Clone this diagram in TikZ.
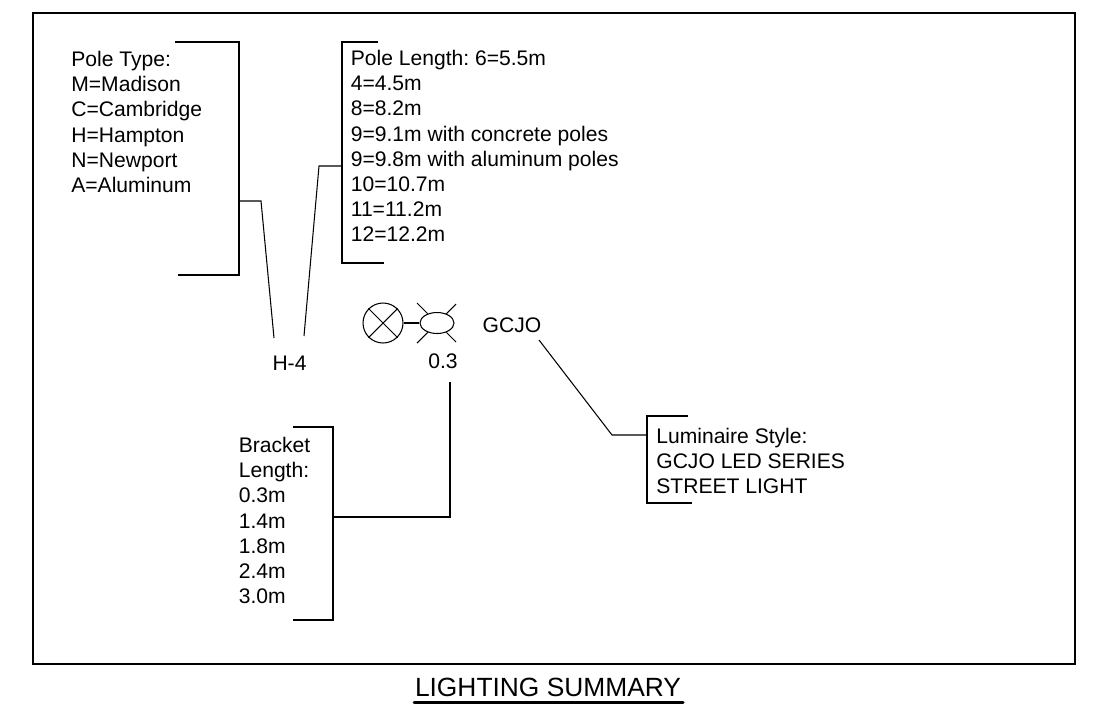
\documentclass[tikz,border=0pt]{standalone}
\usepackage{fontspec}
\setmainfont{Liberation Sans}
\usetikzlibrary{shapes.geometric}
\frenchspacing

\begin{document}
\begin{tikzpicture}[
  x=0.02cm, y=-0.02cm,
  frame/.style={line width=0.65pt, draw=black},
  wire/.style={line width=0.6pt, draw=black},
  note/.style={font=\fontsize{12}{14.3}\selectfont, align=left, anchor=north west, inner sep=0pt, text=black},
  tag/.style={font=\fontsize{12}{14.3}\selectfont, inner sep=0pt, text=black},
  lamp/.style={circle, draw=black, line width=0.6pt, minimum size=0.8cm, inner sep=0pt},
  head/.style={ellipse, draw=black, line width=0.6pt, minimum width=0.68cm, minimum height=0.42cm, inner sep=0pt}
]

\useasboundingbox (0,0) rectangle (1097,721);
\fill[white] (0,0) rectangle (1097,721);

\draw[frame] (33,13) rectangle (1075,664);

% notes
\node[note] (poletype) at (71,51)
  {Pole Type:\\M=Madison\\C=Cambridge\\H=Hampton\\N=Newport\\A=Aluminum};
\node[note] (polelength) at (350.5,50)
  {Pole Length: 6=5.5m\\4=4.5m\\8=8.2m\\9=9.1m with concrete poles\\9=9.8m with aluminum poles\\10=10.7m\\11=11.2m\\12=12.2m};
\node[note] (bracketlength) at (238.5,437)
  {Bracket\\Length:\\0.3m\\1.4m\\1.8m\\2.4m\\3.0m};
\node[note] (style) at (656,428)
  {Luminaire Style:\\GCJO LED SERIES\\STREET LIGHT};

% tags
\node[tag] (poletag) at (289.5,363) {H-4};
\node[tag] (armtag) at (443,361) {0.3};
\node[tag] (luminairetag) at (512,325) {GCJO};

% luminaire symbol
\node[lamp] (lamp) at (383,323) {};
\node[head] (head) at (437,323) {};
\draw[wire] (lamp.45) -- (lamp.225);
\draw[wire] (lamp.135) -- (lamp.315);
\draw[wire] (lamp) -- (head);
\draw[wire] (head.45) -- (456,304);
\draw[wire] (head.135) -- (417,303);
\draw[wire] (head.225) -- (417,343);
\draw[wire] (head.315) -- (456,342);

% brackets
\draw[wire] (175,42) -- (239,42) -- (239,275) -- (178,275);
\draw[wire] (378,42) -- (342,42) -- (342,263) -- (384,263);
\draw[wire] (293,427) -- (333,427) -- (333,620) -- (293,620);
\draw[wire] (688,416) -- (647,416) -- (647,503) -- (692,503);

% leaders
\coordinate (poletagleft) at (274,338);
\coordinate (poletagright) at (304,336);
\coordinate (armtagend) at (450,382);
\coordinate (luminairetagend) at (539,340);
\draw[wire] (239,201) -- (261,201) -- (poletagleft);
\draw[wire] (342,166) -- (319,166) -- (poletagright);
\draw[wire] (333,517) -- (450,517) -- (armtagend);
\draw[wire] (647,435) -- (612,435) -- (luminairetagend);

% title
\node[tag, font=\fontsize{15}{17}\selectfont] (title) at (548,687) {LIGHTING SUMMARY};
\draw[line width=1.7pt, line cap=round] (414,702) -- (683,702);

\end{tikzpicture}
\end{document}
